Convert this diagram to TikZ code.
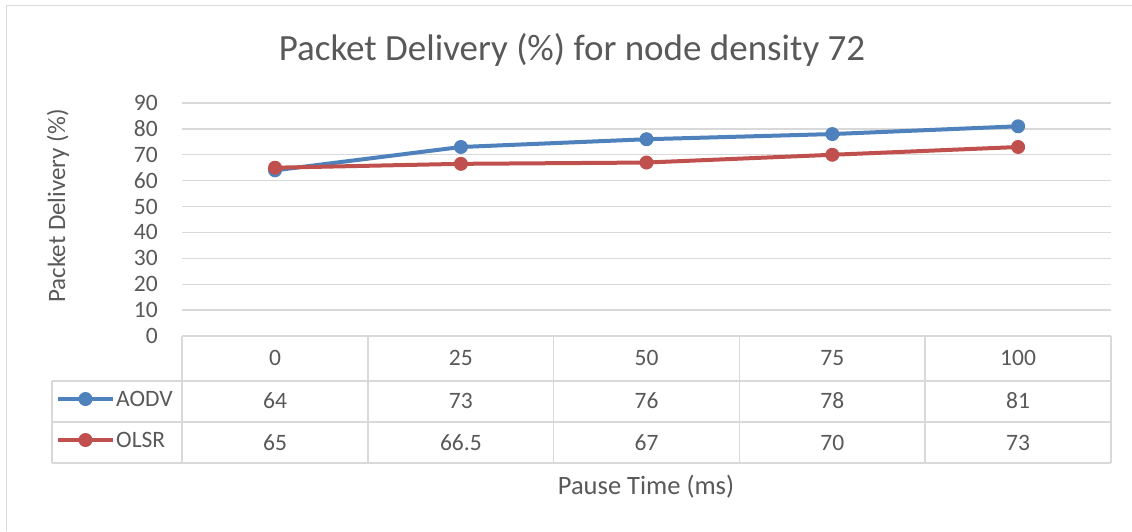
\documentclass[tikz,border=0pt]{standalone}
\usepackage{fontspec}
\setmainfont{Carlito}
\definecolor{txt}{HTML}{595959}
\definecolor{grid}{HTML}{D9D9D9}
\definecolor{aodv}{HTML}{4F81BD}
\definecolor{olsr}{HTML}{C0504D}
\begin{document}
\begin{tikzpicture}[x=1pt,y=-1pt,
  gridline/.style={draw=grid,line width=1.3pt},
  tabline/.style={draw=grid,line width=1.5pt},
  ticklbl/.style={text=txt,font=\fontsize{23.5}{26}\selectfont,anchor=east,inner sep=0pt},
  celltxt/.style={text=txt,font=\fontsize{23.5}{26}\selectfont,inner sep=0pt},
  series/.style={line width=4pt},
  dot/.style={circle,inner sep=0pt,minimum size=14pt,fill=#1},
]
\useasboundingbox (0,0) rectangle (1132,531);
\fill[white] (0,0) rectangle (1132,531);
% chart frame (top and left edges)
\draw[draw=grid,line width=1.5pt] (1132,5.5) -- (6.5,5.5) -- (6.5,531);

% title
\node[text=txt,font=\fontsize{37}{42}\selectfont,inner sep=0pt] (title) at (572,50) {Packet Delivery (\%) for node density 72};

% horizontal gridlines and value labels
\foreach \v in {10,20,...,90} {
  \draw[gridline] (182,{336-\v*2.589}) -- (1111,{336-\v*2.589});
}
\foreach \v in {0,10,...,90} {
  \node[ticklbl] (t\v) at (158,{336-\v*2.589}) {\v};
}

% axis titles
\node[text=txt,font=\fontsize{25}{28}\selectfont,rotate=90,inner sep=0pt] (ytitle) at (58,206) {Packet Delivery (\%)};
\node[text=txt,font=\fontsize{26.5}{30}\selectfont,inner sep=0pt] (xtitle) at (646,487) {Pause Time (ms)};

% data table
\draw[tabline] (182,336) -- (1111,336);
\draw[tabline] (52,381) -- (1111,381);
\draw[tabline] (52,422) -- (1111,422);
\draw[tabline] (52,463) -- (1111,463);
\draw[tabline] (52,381) -- (52,463);
\foreach \x in {182,367.8,553.6,739.4,925.2,1111} {
  \draw[tabline] (\x,336) -- (\x,463);
}
\foreach \c/\x/\p/\a/\o in {1/275/0/64/65,2/460.9/25/73/66.5,3/646.5/50/76/67,4/832.3/75/78/70,5/1018.1/100/81/73} {
  \node[celltxt] (cat\c) at (\x,358) {\p};
  \node[celltxt] (va\c) at (\x,401) {\a};
  \node[celltxt] (vo\c) at (\x,443) {\o};
  \coordinate (pa\c) at (\x,{336-\a*2.589});
  \coordinate (po\c) at (\x,{336-\o*2.589});
}

% legend keys
\coordinate (la0) at (58,399);
\coordinate (la1) at (113,399);
\coordinate (lo0) at (58,440);
\coordinate (lo1) at (113,440);
\draw[series,aodv] (la0) -- (la1);
\node[dot=aodv] (ka) at (85.5,399) {};
\node[celltxt,anchor=west] (na) at (116,399) {AODV};
\draw[series,olsr] (lo0) -- (lo1);
\node[dot=olsr] (ko) at (85.5,440) {};
\node[celltxt,anchor=west] (no) at (116,440) {OLSR};

% AODV series
\draw[series,aodv,line join=round] (pa1) -- (pa2) -- (pa3) -- (pa4) -- (pa5);
\foreach \c in {1,...,5} { \node[dot=aodv] (ma\c) at (pa\c) {}; }
% OLSR series
\draw[series,olsr,line join=round] (po1) -- (po2) -- (po3) -- (po4) -- (po5);
\foreach \c in {1,...,5} { \node[dot=olsr] (mo\c) at (po\c) {}; }
\end{tikzpicture}
\end{document}
